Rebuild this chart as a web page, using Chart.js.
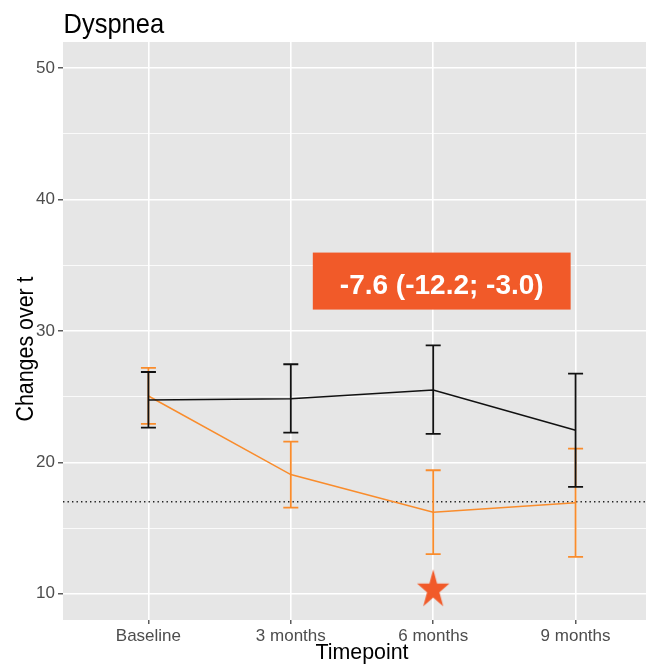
<!DOCTYPE html>
<html><head><meta charset="utf-8">
<script src="https://cdn.jsdelivr.net/npm/chart.js@4.4.1/dist/chart.umd.min.js"></script>
<style>html,body{margin:0;padding:0;overflow:hidden;background:#fff;width:646px;height:665px}canvas{display:block}</style>
</head><body>
<canvas id="c" width="680" height="665"></canvas>
<script>
// ---- data ----
const timepoints = ['Baseline', '3 months', '6 months', '9 months'];
const controlMean = [24.75, 24.85, 25.5, 22.45];
const controlLow = [22.65, 22.27, 22.17, 18.14];
const controlHigh = [26.88, 27.47, 28.91, 26.75];
const interventionMean = [25.05, 19.07, 16.21, 16.92];
const interventionLow = [22.93, 16.56, 13.02, 12.81];
const interventionHigh = [27.19, 21.58, 19.40, 21.05];
const referenceLevel = 17;
const yTickValues = [10, 15, 20, 25, 30, 35, 40, 45, 50];
const significantIndex = 2;
const significantStarValue = 10.3;
const effectLabel = '-7.6 (-12.2; -3.0)';
const effectLabelX = 2.06;
const effectLabelY = 33.8;

// ---- styles ----
const FONT = "'Liberation Sans', Arial, Helvetica, sans-serif";
const BLACK = '#111111';
const ORANGE = '#F98C2C';
const RED = '#F15A29';

function makeStar(w, h, rx, ry, color) {
  const c = document.createElement('canvas');
  c.width = w; c.height = h;
  const g = c.getContext('2d');
  const cx = w / 2, cy = h / 2;
  g.beginPath();
  for (let i = 0; i < 10; i++) {
    const r = i % 2 ? 0.382 : 1;
    const a = -Math.PI / 2 + i * Math.PI / 5;
    g.lineTo(cx + Math.cos(a) * rx * r, cy + Math.sin(a) * ry * r);
  }
  g.closePath();
  g.fillStyle = color;
  g.fill();
  return c;
}
const starImg = makeStar(36, 42, 17, 20.5, RED);

const panelBg = {
  id: 'panelBg',
  beforeDraw(chart) {
    const {ctx, chartArea: a} = chart;
    ctx.save();
    ctx.fillStyle = '#E6E6E6';
    ctx.fillRect(a.left, a.top, a.right - a.left, a.bottom - a.top);
    ctx.restore();
  }
};

const refLine = {
  id: 'refLine',
  beforeDatasetsDraw(chart) {
    const {ctx, chartArea: a, scales: {y}} = chart;
    const py = y.getPixelForValue(referenceLevel);
    ctx.save();
    ctx.strokeStyle = '#222';
    ctx.lineWidth = 1.4;
    ctx.setLineDash([1.4, 3.1]);
    ctx.beginPath();
    ctx.moveTo(a.left, py);
    ctx.lineTo(a.right, py);
    ctx.stroke();
    ctx.restore();
  }
};

const errorBars = {
  id: 'errorBars',
  afterDatasetDraw(chart, args) {
    const ds = chart.data.datasets[args.index];
    if (!ds.errLow) return;
    const {ctx, scales: {x, y}} = chart;
    ctx.save();
    ctx.strokeStyle = ds.borderColor;
    ctx.lineWidth = 1.8;
    ds.errLow.forEach((lo, i) => {
      const px = x.getPixelForValue(i);
      const y1 = y.getPixelForValue(lo);
      const y2 = y.getPixelForValue(ds.errHigh[i]);
      ctx.beginPath();
      ctx.moveTo(px, y1); ctx.lineTo(px, y2);
      ctx.moveTo(px - 7.5, y1); ctx.lineTo(px + 7.5, y1);
      ctx.moveTo(px - 7.5, y2); ctx.lineTo(px + 7.5, y2);
      ctx.stroke();
    });
    ctx.restore();
  }
};

const texts = {
  id: 'texts',
  afterDraw(chart) {
    const {ctx, scales: {x, y}} = chart;
    ctx.save();
    // title
    ctx.fillStyle = '#000';
    ctx.font = `25.5px ${FONT}`;
    ctx.textAlign = 'left';
    ctx.textBaseline = 'alphabetic';
    ctx.save();
    ctx.translate(63.5, 33);
    ctx.scale(1, 1.1);
    ctx.fillText('Dyspnea', 0, 0);
    ctx.restore();
    // y title
    ctx.save();
    ctx.translate(33, 349);
    ctx.rotate(-Math.PI / 2);
    ctx.scale(1, 1.1);
    ctx.font = `21.4px ${FONT}`;
    ctx.textAlign = 'center';
    ctx.fillText('Changes over t', 0, 0);
    ctx.restore();
    // effect label
    const cx = x.getPixelForValue(effectLabelX);
    const cy = y.getPixelForValue(effectLabelY);
    ctx.font = `bold 28px ${FONT}`;
    const tw = ctx.measureText(effectLabel).width;
    const bw = tw + 54, bh = 57;
    ctx.fillStyle = RED;
    ctx.fillRect(cx - bw / 2, cy - bh / 2, bw, bh);
    ctx.fillStyle = '#fff';
    ctx.textAlign = 'center';
    ctx.textBaseline = 'alphabetic';
    ctx.fillText(effectLabel, cx, cy + 12.5);
    ctx.restore();
  }
};

new Chart(document.getElementById('c'), {
  data: {
    datasets: [
      {
        type: 'line',
        label: 'Control',
        data: controlMean.map((v, i) => ({x: i, y: v})),
        borderColor: BLACK,
        borderWidth: 1.5,
        pointRadius: 0,
        fill: false,
        tension: 0,
        errLow: controlLow,
        errHigh: controlHigh
      },
      {
        type: 'line',
        label: 'Intervention',
        data: interventionMean.map((v, i) => ({x: i, y: v})),
        borderColor: ORANGE,
        borderWidth: 1.5,
        pointRadius: 0,
        fill: false,
        tension: 0,
        errLow: interventionLow,
        errHigh: interventionHigh
      },
      {
        type: 'scatter',
        label: 'Significant',
        data: [{x: significantIndex, y: significantStarValue}],
        pointStyle: starImg,
        pointRadius: 18,
        backgroundColor: RED,
        borderColor: RED
      }
    ]
  },
  options: {
    responsive: false,
    animation: false,
    layout: {padding: {top: 42, right: 17, left: 0, bottom: 0}},
    plugins: {legend: {display: false}, tooltip: {enabled: false}},
    scales: {
      x: {
        type: 'linear',
        min: -0.6,
        max: 3.6,
        afterBuildTicks: s => { s.ticks = timepoints.map((_, i) => ({value: i})); },
        afterFit: s => { s.height = 45; },
        border: {display: false},
        grid: {color: '#FFFFFF', lineWidth: 1.6, tickColor: '#333333', tickLength: 4, tickWidth: 1.2},
        ticks: {
          autoSkip: false, maxRotation: 0, padding: 2,
          color: '#4D4D4D', font: {family: FONT, size: 17},
          callback: v => timepoints[v]
        },
        title: {display: true, text: 'Timepoint', color: '#000', font: {family: FONT, size: 21.4, lineHeight: 1}, padding: {top: 0, bottom: 1}}
      },
      y: {
        type: 'linear',
        min: 8,
        max: 52,
        afterBuildTicks: s => { s.ticks = yTickValues.map(v => ({value: v})); },
        afterFit: s => { s.width = 63; },
        border: {display: false},
        grid: {
          color: '#FFFFFF',
          lineWidth: c => (c.tick && c.tick.value % 10 === 0 ? 1.6 : 0.8),
          tickColor: c => (c.tick && c.tick.value % 10 === 0 ? '#333333' : 'rgba(0,0,0,0)'),
          tickLength: 5, tickWidth: 1.2
        },
        ticks: {
          autoSkip: false, padding: 3,
          color: '#4D4D4D', font: {family: FONT, size: 17},
          callback: v => (v % 10 === 0 ? String(v) : '')
        }
      }
    }
  },
  plugins: [panelBg, refLine, errorBars, texts]
});
</script>
</body></html>
